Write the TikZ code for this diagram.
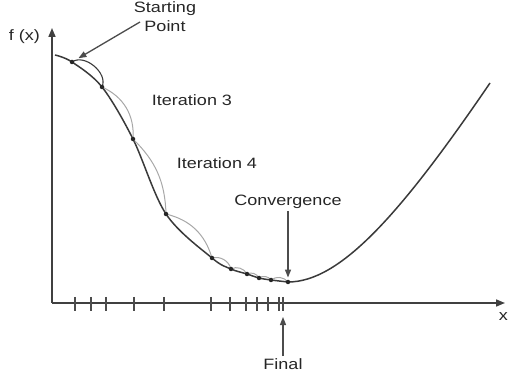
\documentclass[tikz,border=0pt]{standalone}
\usepackage{fontspec}
\setmainfont{Liberation Sans}[FakeStretch=1.2]
\usetikzlibrary{arrows.meta}
\definecolor{curvegray}{HTML}{3A3A3A}
\definecolor{arcgray}{HTML}{A8A8A8}

\begin{document}
\begin{tikzpicture}[
    x=1pt, y=-1pt, % pixel grid, (0,0) at top left
    dot/.style={circle, fill=black!85, inner sep=0pt, minimum size=4.5pt},
    lbl/.style={font=\fontsize{15}{19}\selectfont, text=black!85, align=center, inner sep=2pt},
    axis/.style={-{Triangle[length=9pt,width=7pt]}, line width=1.6pt, draw=black!75},
    arr/.style={-{Triangle[length=8pt,width=6pt]}, line width=1.3pt, draw=black!70},
    curve/.style={curvegray, line width=1.5pt},
    arc/.style={arcgray, line width=1pt},
    tick/.style={black!70, line width=1.3pt}
]
\useasboundingbox (0,0) rectangle (509,374);
% axes
\coordinate (O) at (52,303);
\coordinate (ytip) at (52,28);
\coordinate (xtip) at (505,303);
\draw[axis] (O) -- (ytip);
\draw[axis] (O) -- (xtip);
\node[lbl, anchor=east] (fx) at (42,37) {f (x)};
\node[lbl, anchor=east, inner sep=1pt] (xl) at (509,317) {x};
% ticks under the iterates
\foreach \t in {75,91,106,134,164,211,230,246,257,268,279,283}
    \draw[tick] (\t,297) -- (\t,311);
% the iterates
\foreach \n/\x/\y in {1/72/62, 2/102/87, 3/133/139, 4/166/214, 5/212/258,
                      6/231/269, 7/247/274, 8/259/278, 9/271/280, 10/288/282}
    \coordinate (p\n) at (\x,\y);
\coordinate (c0) at (55,55);
\coordinate (cend) at (490,83);
\draw[curve] plot[smooth, tension=0.55] coordinates {(c0) (p1) (p2) (p3) (p4) (p5)
    (p6) (p7) (p8) (p9) (p10)};
\draw[curve] (p10) .. controls (340,282) and (400,215) .. (cend);
% steps
\draw[curvegray, line width=1.1pt] (p1) to[bend left=75] (p2);
\draw[arc] (p2) to[bend left=35] (p3);
\draw[arc] (p3) to[bend left=22] (p4);
\draw[arc] (p4) to[bend left=30] (p5);
\foreach \a/\b in {5/6, 6/7, 7/8, 8/9, 9/10}
    \draw[arc] (p\a) to[bend left=45] (p\b);
\foreach \n in {1,...,10}
    \node[dot] (d\n) at (p\n) {};
% labels
\node[lbl] (start) at (165,17) {Starting\\Point};
\coordinate (spfoot) at (140,22);
\draw[arr, shorten >=5pt] (spfoot) -- (d1);
\node[lbl] (it3) at (192,100) {Iteration 3};
\node[lbl] (it4) at (217,163) {Iteration 4};
\node[lbl] (conv) at (288,202) {Convergence};
\draw[arr, shorten >=2pt] (conv.south) -- (d10);
\node[lbl, anchor=north] (final) at (283,356) {Final};
\coordinate (ftip) at (283,317);
\draw[arr] (final.north) -- (ftip);
\end{tikzpicture}
\end{document}
